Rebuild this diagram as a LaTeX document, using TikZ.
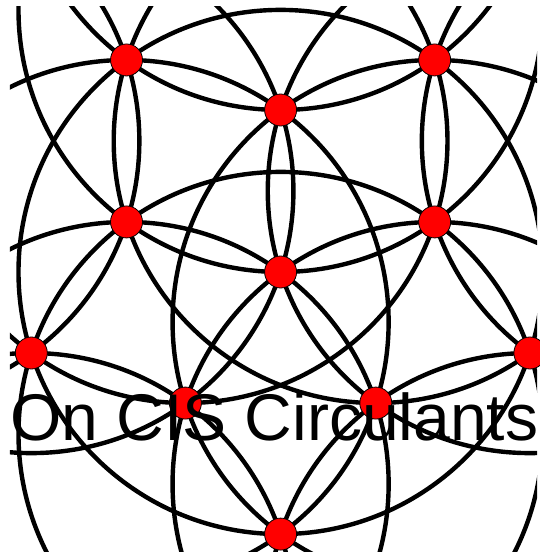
\documentclass[tikz,border=0pt]{standalone}
\usepackage{fontspec}
\setmainfont{Liberation Sans}
\begin{document}
\begin{tikzpicture}[x=1pt,y=1pt,
  ring/.style={line width=4.4pt, black},
  dot/.style={circle, fill=red, draw=black, line width=0.8pt, minimum size=32pt, inner sep=0pt},
  title/.style={anchor=base west, inner sep=0pt, font=\fontsize{66}{66}\selectfont, text=black}]
\def\rr{162}
\def\RR{262.1}
\def\RRR{424.1}
\useasboundingbox (-280.6,-280) rectangle (258.4,272);
\begin{scope}
  \clip (-270.6,-281) rectangle (256.4,265.5);
  \draw[ring] (0,0) circle (\RR);
  \foreach \a in {90,18,-54,-126,162} {
    \draw[ring] (\a:\RR) circle (\RR);
    \draw[ring] (\a:\RRR) circle (\RR);
  }
  \foreach \a in {54,-18,-90,-162,126} {
    \draw[ring] (\a:\rr) circle (\RR);
  }
\end{scope}
\node[dot] (F) at (0,0) {};
\node[dot] (C) at (90:\rr) {};
\node[dot] (E) at (18:\rr) {};
\node[dot] (J) at (-54:\rr) {};
\node[dot] (I) at (-126:\rr) {};
\node[dot] (D) at (162:\rr) {};
\node[dot] (B) at (54:\RR) {};
\node[dot] (H) at (-18:\RR) {};
\node[dot] (K) at (-90:\RR) {};
\node[dot] (G) at (-162:\RR) {};
\node[dot] (A) at (126:\RR) {};
\node[title] (T) at (-270.6,-168) {On CIS Circulants};
\end{tikzpicture}
\end{document}
